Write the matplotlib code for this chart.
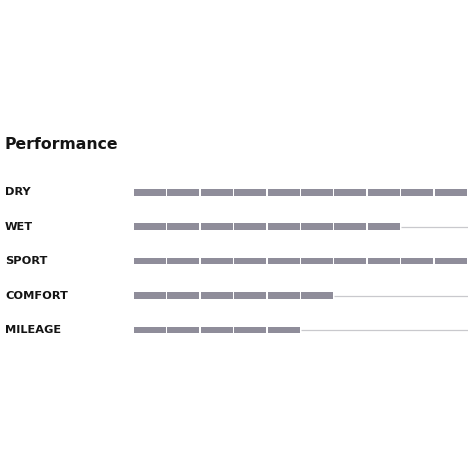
import matplotlib
matplotlib.use("Agg")
from matplotlib import pyplot as plt
from matplotlib import transforms

categories = ["DRY", "WET", "SPORT", "COMFORT", "MILEAGE"]
scores = [10, 8, 10, 6, 5]
max_score = 10
title = "Performance"

bar_color = "#8f8d9a"
track_color = "#c9c9cd"
text_color = "#141414"

W = 474
fig = plt.figure(figsize=(4.74, 4.74), dpi=100)
# axes spans the bar area: x 134..468 px, rows centred from y=192 to y=330 px
ax = fig.add_axes([134 / W, 1 - 347.2 / W, (468 - 134) / W, (347.2 - 175.1) / W])
ax.set_xlim(0, max_score)
ax.set_ylim(len(categories) - 0.5, -0.5)
ax.axis("off")

gap = 0.04
bar_h = 0.19
for row, (name, score) in enumerate(zip(categories, scores)):
    if score < max_score:
        ax.plot([score, max_score], [row, row], color=track_color, lw=0.9,
                solid_capstyle="butt", zorder=1)
    for i in range(score):
        ax.barh(row, 1 - gap, left=i, height=bar_h, color=bar_color,
                linewidth=0, zorder=2)

label_tf = transforms.blended_transform_factory(fig.transFigure, ax.transData)
for row, name in enumerate(categories):
    ax.text(5 / W, row, name, transform=label_tf, ha="left", va="center",
            fontsize=8.2, fontweight="bold", color=text_color, clip_on=False)

fig.text(5 / W, 1 - 145 / W, title, ha="left", va="center",
         fontsize=11.3, fontweight="bold", color=text_color)

fig.savefig("out.png", dpi=100)
